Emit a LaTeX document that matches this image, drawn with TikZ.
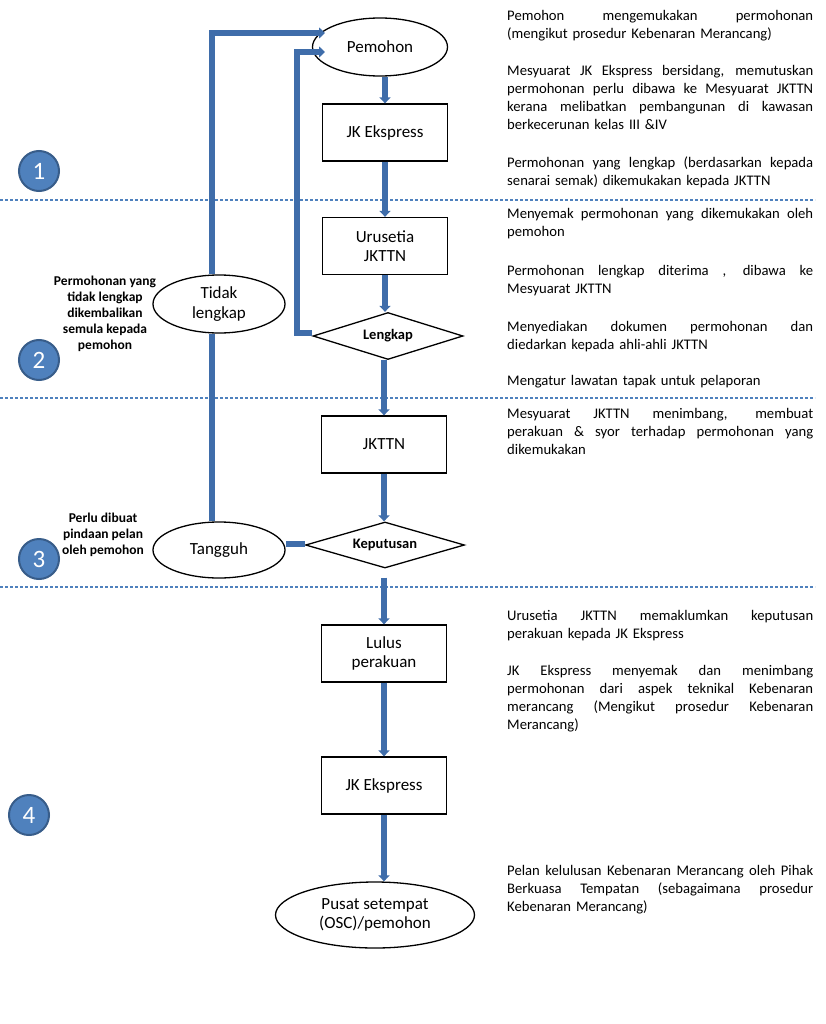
\documentclass[tikz,border=0pt]{standalone}
\usepackage{fontspec}
\setmainfont{Carlito}
\usetikzlibrary{shapes.geometric,arrows.meta}
\definecolor{linecol}{HTML}{3F6DAA}
\definecolor{dashcol}{HTML}{4F81BD}
\definecolor{circfill}{HTML}{4F81BD}
\definecolor{circdraw}{HTML}{385D8A}
\newcommand{\jline}[1]{\leavevmode\hbox to 306pt{\spaceskip=0.23em plus 1fil\relax\xspaceskip=0.23em plus 1fil\relax #1}}
\tikzset{
  boxnode/.style={draw=black,line width=1.3pt,rectangle,minimum width=125pt,minimum height=57pt,inner sep=0pt,align=center,font=\fontsize{17}{19.5}\selectfont},
  ellnode/.style={draw=black,line width=1.3pt,ellipse,inner sep=0pt,align=center,font=\fontsize{17}{19.5}\selectfont},
  dianode/.style={draw=black,line width=1.3pt,diamond,aspect=3.3,inner sep=0pt,font=\bfseries\fontsize{14.5}{17}\selectfont},
  conn/.style={draw=linecol,line width=6.5pt},
  connarrow/.style={conn,-{Triangle[width=11pt,length=6pt]}},
  sepline/.style={draw=dashcol,line width=1.1pt,dash pattern=on 3pt off 2pt},
  numcirc/.style={circle,fill=circfill,draw=circdraw,line width=2pt,minimum size=40pt,inner sep=0pt,text=white,font=\fontsize{25}{25}\selectfont},
  desc/.style={anchor=north west,inner sep=0pt,text width=306pt,align=left,font=\fontsize{14.67}{17.9}\selectfont},
  sidelabel/.style={inner sep=0pt,align=center,font=\bfseries\fontsize{13.5}{16}\selectfont}
}
\begin{document}
\begin{tikzpicture}[x=1pt,y=-1pt]
\useasboundingbox[fill=white] (0,0) rectangle (826,1024);

% separators
\draw[sepline] (0,200) -- (815,200);
\draw[sepline] (0,398) -- (815,398);
\draw[sepline] (0,587) -- (815,587);

% numbered circles
\node[numcirc] (n1) at (39,171) {1};
\node[numcirc] (n2) at (39,360) {2};
\node[numcirc] (n3) at (39,559) {3};
\node[numcirc] (n4) at (29,815) {4};

% flow nodes
\node[ellnode,minimum width=135pt,minimum height=58pt] (PM) at (380,47) {Pemohon};
\node[boxnode] (JK1) at (385,132.5) {JK Ekspress};
\node[boxnode] (UR) at (385,246) {Urusetia\\JKTTN};
\node[dianode,minimum width=150pt,minimum height=47pt] (LK) at (388,336) {Lengkap};
\node[ellnode,minimum width=132pt,minimum height=58pt] (TL) at (219,304) {Tidak\\lengkap};
\node[boxnode] (JT) at (384,444.5) {JKTTN};
\node[dianode,minimum width=159pt,minimum height=46pt] (KP) at (385,545) {Keputusan};
\node[ellnode,minimum width=132pt,minimum height=56pt] (TG) at (219,550) {Tangguh};
\node[boxnode] (LP) at (384,653.5) {Lulus\\perakuan};
\node[boxnode] (JK2) at (384,785.5) {JK Ekspress};
\node[ellnode,minimum width=199pt,minimum height=66pt] (PS) at (375,915) {Pusat setempat\\(OSC)/pemohon};

% side labels
\node[sidelabel] (lab1) at (105,314) {Permohonan yang\\tidak lengkap\\dikembalikan\\semula kepada\\pemohon};
\node[sidelabel] (lab2) at (103,534.5) {Perlu dibuat\\pindaan pelan\\oleh pemohon};

% connectors
\draw[connarrow] (PM.south -| JK1.north) -- (JK1.north);
\draw[connarrow] (JK1.south) -- (UR.north);
\draw[connarrow] (UR.south) -- (UR.south |- LK.north);
\draw[connarrow] (LK.south -| JT.north) -- (JT.north);
\draw[connarrow] (JT.south) -- (JT.south |- KP.north);
\coordinate (k0) at ([yshift=-9pt]KP.south);
\draw[connarrow] (k0 -| LP.north) -- (LP.north);
\draw[connarrow] (LP.south) -- (JK2.north);
\draw[connarrow] (JK2.south) -- (JK2.south |- PS.north);

\coordinate (pa) at (325,33);
\coordinate (pb) at (325,52);
\coordinate (lkc) at (297,333);
\draw[connarrow] ([xshift=-7pt]TL.north) |- (pa);
\draw[connarrow] ([yshift=3pt]LK.west) -- (lkc) |- (pb);
\draw[conn] ([xshift=-7pt]TG.north) -- ([xshift=-7pt]TL.south);
\draw[conn] ([yshift=1pt]KP.west) -- ([yshift=1pt]KP.west -| TG.east);

% descriptions
\node[desc] (d1) at (507,10.5) {\jline{Pemohon mengemukakan permohonan}\\(mengikut prosedur Kebenaran Merancang)};
\node[desc] (d2) at (507,65.5) {\jline{Mesyuarat JK Ekspress bersidang, memutuskan}\\\jline{permohonan perlu dibawa ke Mesyuarat JKTTN}\\\jline{kerana melibatkan pembangunan di kawasan}\\berkecerunan kelas III \&IV};
\node[desc] (d3) at (507,156.5) {\jline{Permohonan yang lengkap (berdasarkan kepada}\\senarai semak) dikemukakan kepada JKTTN};
\node[desc] (d4) at (507,208.5) {\jline{Menyemak permohonan yang dikemukakan oleh}\\pemohon};
\node[desc] (d5) at (507,265.5) {\jline{Permohonan lengkap diterima , dibawa ke}\\Mesyuarat JKTTN};
\node[desc] (d6) at (507,321.5) {\jline{Menyediakan dokumen permohonan dan}\\diedarkan kepada ahli-ahli JKTTN};
\node[desc] (d7) at (507,375.5) {Mengatur lawatan tapak untuk pelaporan};
\node[desc] (d8) at (507,408.5) {\jline{Mesyuarat JKTTN menimbang, membuat}\\\jline{perakuan \& syor terhadap permohonan yang}\\dikemukakan};
\node[desc] (d9) at (507,610.5) {\jline{Urusetia JKTTN memaklumkan keputusan}\\perakuan kepada JK Ekspress};
\node[desc] (d10) at (507,665.5) {\jline{JK Ekspress menyemak dan menimbang}\\\jline{permohonan dari aspek teknikal Kebenaran}\\\jline{merancang (Mengikut prosedur Kebenaran}\\Merancang)};
\node[desc] (d11) at (507,865.5) {\jline{Pelan kelulusan Kebenaran Merancang oleh Pihak}\\\jline{Berkuasa Tempatan (sebagaimana prosedur}\\Kebenaran Merancang)};
\end{tikzpicture}
\end{document}
